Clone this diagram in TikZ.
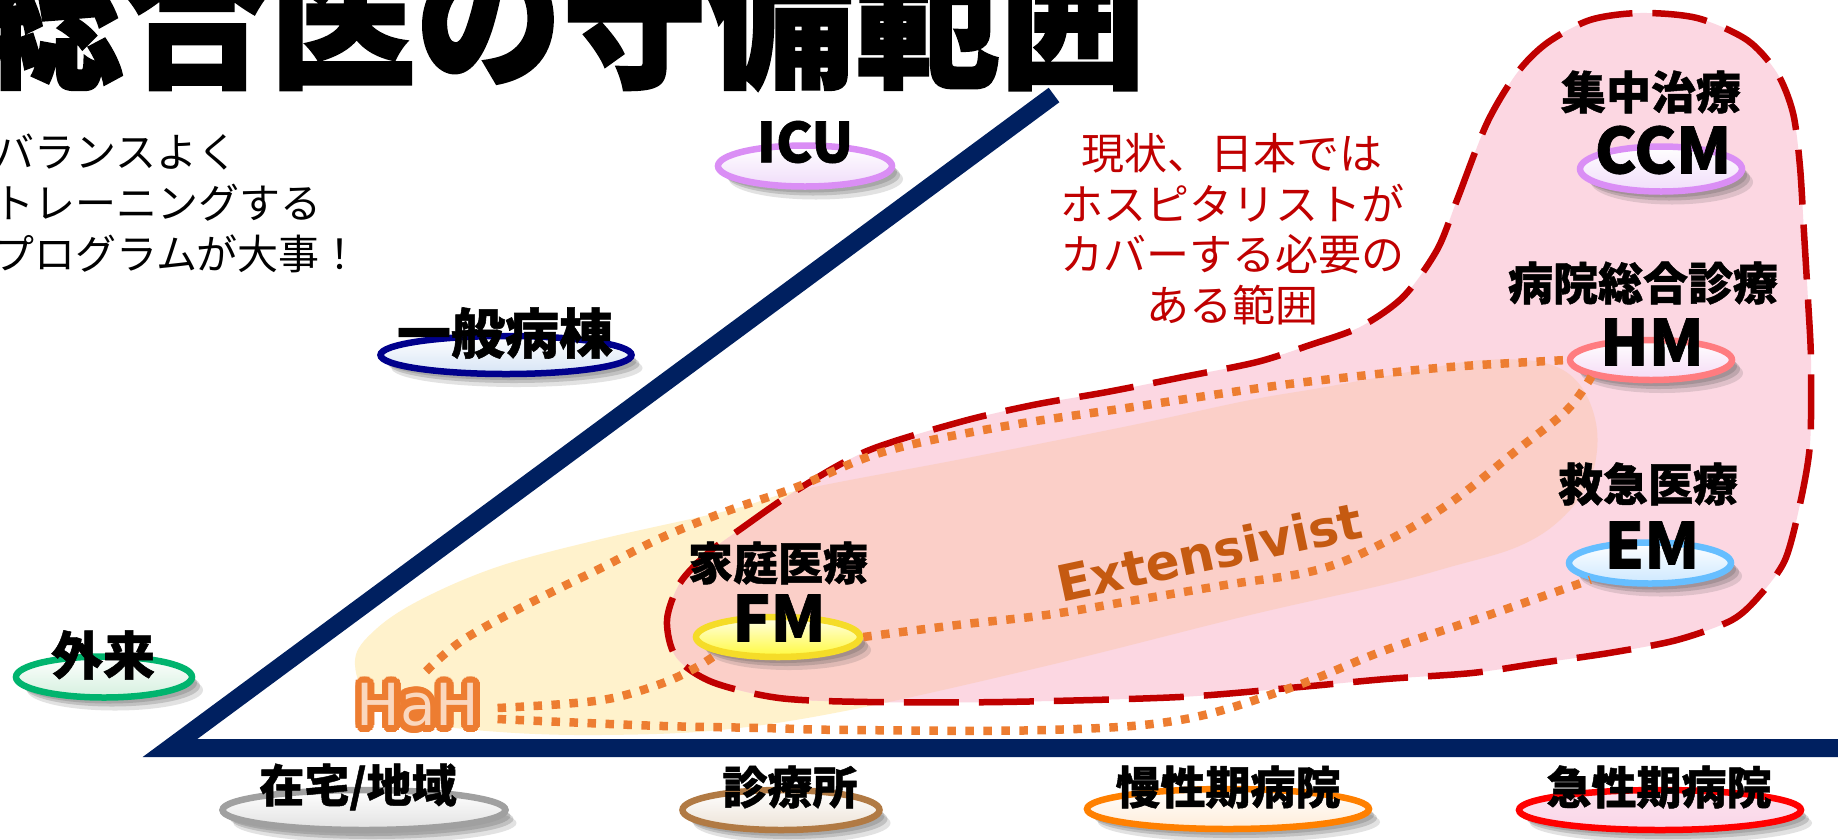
\documentclass[tikz,border=0pt]{standalone}
\usepackage{fontspec}
\newfontfamily\jp{Noto Sans CJK JP}
\newfontfamily\dv{DejaVu Sans}
\usetikzlibrary{shapes.geometric,calc}
\definecolor{cnavy}{RGB}{0,32,96}
\definecolor{cred}{RGB}{192,0,0}
\definecolor{corange}{RGB}{237,125,49}
\definecolor{cpeach}{RGB}{250,215,190}
\definecolor{cext}{RGB}{197,90,17}
\definecolor{ccream}{RGB}{255,242,204}
\definecolor{cpink}{RGB}{252,215,226}
\definecolor{csalmon}{RGB}{251,207,200}
\definecolor{bgreen}{RGB}{0,180,110}
\definecolor{fgreen}{RGB}{212,240,222}
\definecolor{bgray}{RGB}{160,160,160}
\definecolor{fgray}{RGB}{225,225,225}
\definecolor{bbrown}{RGB}{177,122,68}
\definecolor{fbrown}{RGB}{236,226,214}
\definecolor{borng}{RGB}{255,128,0}
\definecolor{forng}{RGB}{255,236,216}
\definecolor{bred}{RGB}{255,0,0}
\definecolor{fred}{RGB}{250,214,232}
\definecolor{bnavy}{RGB}{0,0,140}
\definecolor{fnavy}{RGB}{214,228,245}
\definecolor{bviolet}{RGB}{218,142,245}
\definecolor{fviolet}{RGB}{240,220,250}
\definecolor{bsalmon}{RGB}{255,124,128}
\definecolor{fsalmon}{RGB}{245,218,245}
\definecolor{bblue}{RGB}{102,190,255}
\definecolor{fblue}{RGB}{205,232,255}
\definecolor{byellow}{RGB}{245,220,40}
\definecolor{fyellow}{RGB}{255,250,60}
\tikzset{
  softshadow/.style={
    preaction={fill=black!70, fill opacity=0.16, transform canvas={shift={(11pt,-13pt)}}},
    preaction={fill=black!70, fill opacity=0.22, transform canvas={shift={(8pt,-9pt)}}},
    preaction={fill=black!70, fill opacity=0.22, transform canvas={shift={(5pt,-6pt)}}}},
  oval/.style 2 args={ellipse, inner sep=0pt, line width=6.5pt, draw=#1,
    top color=white, bottom color=#2, softshadow},
  lbl/.style={inner sep=0pt, font=\jp\bfseries\addfontfeature{FakeBold=1}\fontsize{45}{45}\selectfont},
  biglbl/.style={inner sep=0pt, font=\jp\bfseries\addfontfeature{FakeBold=1}\fontsize{63}{63}\selectfont},
  dotline/.style={draw=corange, line width=8.5pt, dash pattern=on 8.5pt off 9.5pt},
  reddash/.style={draw=cred, line width=6.5pt, dash pattern=on 55pt off 20pt},
  hahfont/.style={inner sep=0pt, font=\dv\fontsize{58}{58}\selectfont}
}
\begin{document}
\begin{tikzpicture}[x=1pt,y=-1pt]
\useasboundingbox (0,0) rectangle (1838,839);
\clip (0,0) rectangle (1838,839);
\fill[white] (0,0) rectangle (1838,839);

% axes
\draw[cnavy, line width=18pt] (1054,95) -- (170,748) -- (1860,748);

% areas
\def\creampath{plot[smooth cycle, tension=0.6] coordinates {(355,660) (375,630) (420,600) (497,567) (597,540) (730,510) (800,490) (967,458) (1133,425) (1250,400) (1320,388) (1420,370) (1483,360) (1545,363) (1580,385) (1597,430) (1590,480) (1560,520) (1517,547) (1450,567) (1383,585) (1250,615) (1050,665) (850,710) (720,730) (600,735) (500,732) (420,722) (370,700)}}
\def\pinkpath{plot[smooth cycle, tension=0.5] coordinates {(667,620) (680,583) (708,553) (742,528) (797,490) (867,451) (960,422) (1033,405) (1107,392) (1183,377) (1257,362) (1310,345) (1360,327) (1403,297) (1437,250) (1457,200) (1487,123) (1517,73) (1547,43) (1590,20) (1640,13) (1697,18) (1747,40) (1777,73) (1793,113) (1800,167) (1804,233) (1808,300) (1811,361) (1810,444) (1800,504) (1785,560) (1760,595) (1732,620) (1677,640) (1609,653) (1540,663) (1472,673) (1386,679) (1300,687) (1180,697) (1002,702) (868,702) (779,698) (712,682) (676,657)}}
\fill[ccream] \creampath;
\fill[cpink] \pinkpath;
\begin{scope}
  \clip \pinkpath;
  \fill[csalmon] \creampath;
\end{scope}
\draw[reddash] \pinkpath;

% title and notes
\node[anchor=base east, inner sep=0pt, yscale=1.08, font=\jp\bfseries\addfontfeature{FakeBold=1.5}\fontsize{146}{146}\selectfont] (title) at (1146,75) {総合医の守備範囲};
\node[anchor=west, align=left, inner sep=0pt, font=\jp\fontsize{41}{51}\selectfont] (advice) at (-7,203) {バランスよく\\トレーニングする\\プログラムが大事！};
\node[align=center, inner sep=0pt, text=cred, font=\jp\fontsize{43}{50.5}\selectfont] (note) at (1232,229) {現状、日本では\\ホスピタリストが\\カバーする必要の\\ある範囲};

% ellipses
\node[oval={bgreen}{fgreen}, minimum width=176pt, minimum height=41pt] (gairai) at (104,677) {};
\node[oval={bgray}{fgray}, minimum width=283pt, minimum height=40pt] (zaitaku) at (364,810) {};
\node[oval={bbrown}{fbrown}, minimum width=197pt, minimum height=40pt] (shinryo) at (781,810) {};
\node[oval={borng}{forng}, minimum width=282pt, minimum height=40pt] (mansei) at (1228,809) {};
\node[oval={bred}{fred}, top color=fred!70!white, minimum width=282pt, minimum height=40pt] (kyusei) at (1660,810) {};
\node[oval={bnavy}{fnavy}, minimum width=251pt, minimum height=38pt] (ippan) at (506,355) {};
\node[oval={bviolet}{fviolet}, minimum width=174pt, minimum height=41pt] (icu) at (805,166) {};
\node[oval={bviolet}{fviolet}, minimum width=162pt, minimum height=45pt] (ccm) at (1661,169) {};
\node[oval={bsalmon}{fsalmon}, minimum width=162pt, minimum height=40pt] (hm) at (1651,360) {};
\node[oval={bblue}{fblue}, minimum width=162pt, minimum height=41pt] (em) at (1650,563) {};
\node[oval={byellow}{fyellow}, top color=fyellow!12!white, minimum width=164pt, minimum height=40pt] (fm) at (778,637) {};

% HaH
\coordinate (hahc) at (418,705);
\foreach \a in {0,15,...,345}
  \node[hahfont, text=corange] at ($(hahc)+(\a:6.5)$) {HaH};
\node[hahfont, text=cpeach] (hah) at (hahc) {HaH};

% connectors
\coordinate (hahtop) at ($(hah.north)+(8,-12)$);
\coordinate (hahr1) at ($(hah.east)+(18,3)$);
\coordinate (hahr2) at ($(hah.east)+(18,14)$);
\draw[dotline] plot[smooth, tension=0.6] coordinates {(hahtop) (463,640) (530,603) (597,570) (663,537) (730,510) (797,487) (883,452) (1000,427) (1133,407) (1267,387) (1350,377) (1450,367) (hm.west)};
\draw[dotline] plot[smooth, tension=0.6] coordinates {(hahr1) (563,704) (613,698) (663,683) (697,667) (fm.south west)};
\draw[dotline] plot[smooth, tension=0.6] coordinates {(fm.east) (957,625) (1046,615) (1136,600) (1225,585) (1317,570) (1383,543) (1450,503) (1517,450) (1567,410) (hm.south west)};
\draw[dotline] plot[smooth, tension=0.6] coordinates {(hahr2) (563,722) (663,726) (763,728) (850,730) (1046,730) (1180,720) (1290,688) (1383,651) (1483,617) (em.south west)};

\node[inner sep=0pt, text=cext, rotate=12, font=\dv\bfseries\fontsize{50}{50}\selectfont] (ext) at (1209,552) {Extensivist};

% labels
\node[lbl, font=\jp\bfseries\addfontfeature{FakeBold=1}\fontsize{52}{52}\selectfont] (gairai-t) at (103,655) {外来};
\node[lbl] (zaitaku-t) at (358,787) {在宅/地域};
\node[lbl] (shinryo-t) at (790,787) {診療所};
\node[lbl] (mansei-t) at (1228,787) {慢性期病院};
\node[lbl] (kyusei-t) at (1659,787) {急性期病院};
\node[lbl, font=\jp\bfseries\addfontfeature{FakeBold=1}\fontsize{54}{54}\selectfont] (ippan-t) at (505,333) {一般病棟};
\node[biglbl, font=\jp\bfseries\addfontfeature{FakeBold=1}\fontsize{55}{55}\selectfont] (icu-t) at (805,142) {ICU};
\node[lbl] (ccm-j) at (1651,92) {集中治療};
\node[biglbl] (ccm-t) at (1663,150) {CCM};
\node[lbl] (hm-j) at (1643,283) {病院総合診療};
\node[biglbl] (hm-t) at (1652,342) {HM};
\node[lbl] (em-j) at (1648,484) {救急医療};
\node[biglbl] (em-t) at (1652,545) {EM};
\node[lbl] (fm-j) at (778,563) {家庭医療};
\node[biglbl] (fm-t) at (779,618) {FM};
\end{tikzpicture}
\end{document}
